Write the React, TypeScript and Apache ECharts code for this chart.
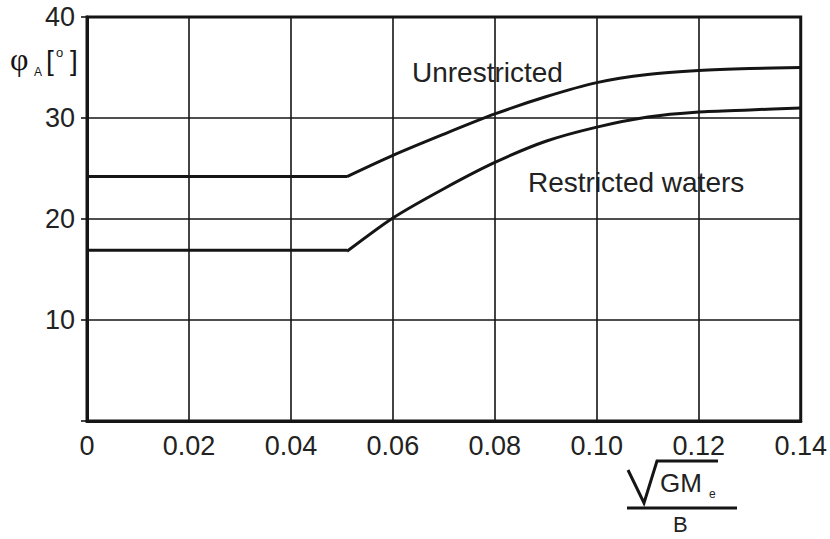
import React, { useEffect, useRef } from "react";
import * as echarts from "echarts";

// x values (sqrt(GMe)/B)
const flatX = [0, 0.051];
const curveX = [0.051, 0.06, 0.07, 0.08, 0.09, 0.1, 0.11, 0.12, 0.13, 0.14];
// Unrestricted
const unrestrictedFlat = [24.2, 24.2];
const unrestrictedCurve = [24.2, 26.3, 28.4, 30.4, 32.1, 33.5, 34.3, 34.7, 34.9, 35.0];
// Restricted waters
const restrictedFlat = [16.9, 16.9];
const restrictedCurve = [16.8, 20.1, 23.0, 25.6, 27.7, 29.1, 30.1, 30.6, 30.8, 31.0];

const xTicks = [0, 0.02, 0.04, 0.06, 0.08, 0.1, 0.12, 0.14];
const yTicks = [0, 10, 20, 30, 40];

const FONT = "'Liberation Sans', Arial, sans-serif";
const INK = "#151515";

const zip = (xs: number[], ys: number[]) => xs.map((x, i) => [x, ys[i]]);

export default function App() {
  const ref = useRef<HTMLDivElement>(null);
  useEffect(() => {
    if (!ref.current) return;
    const chart = echarts.init(ref.current, undefined, { renderer: "svg" });
    const lineStyle = { color: INK, width: 3 };
    const mk = (data: number[][], smooth: boolean) => ({
      type: "line",
      data,
      smooth: smooth ? 0.25 : false,
      showSymbol: false,
      symbol: "none",
      lineStyle,
      silent: true,
    });
    chart.setOption({
      animation: false,
      backgroundColor: "#ffffff",
      grid: {
        left: 87,
        right: 24,
        top: 17,
        bottom: 118,
        show: true,
        borderColor: INK,
        borderWidth: 3,
      },
      xAxis: {
        type: "value",
        min: xTicks[0],
        max: xTicks[xTicks.length - 1],
        interval: 0.02,
        axisLine: { show: true, lineStyle: { color: INK, width: 3 } },
        axisTick: { show: false },
        splitLine: { show: true, lineStyle: { color: INK, width: 1.6 } },
        axisLabel: {
          margin: 11,
          fontFamily: FONT,
          fontSize: 27,
          color: "#222",
          formatter: (v: number) => (Math.abs(v) < 1e-9 ? "0" : v.toFixed(2)),
        },
      },
      yAxis: {
        type: "value",
        min: yTicks[0],
        max: yTicks[yTicks.length - 1],
        interval: 10,
        axisLine: { show: true, lineStyle: { color: INK, width: 3 } },
        axisTick: { show: true, length: 6, lineStyle: { color: INK, width: 1.6 } },
        splitLine: { show: true, lineStyle: { color: INK, width: 1.6 } },
        axisLabel: {
          margin: 12,
          fontFamily: FONT,
          fontSize: 27,
          color: "#222",
          formatter: (v: number) => (v === 0 ? "" : String(v)),
        },
      },
      series: [
        mk(zip(flatX, unrestrictedFlat), false),
        mk(zip(curveX, unrestrictedCurve), true),
        mk(zip(flatX, restrictedFlat), false),
        mk(zip(curveX, restrictedCurve), true),
      ],
      graphic: [
        {
          type: "text",
          left: 412,
          top: 58,
          style: { text: "Unrestricted", font: `28px ${FONT}`, fill: "#222" },
        },
        {
          type: "text",
          left: 528,
          top: 168,
          style: { text: "Restricted waters", font: `28px ${FONT}`, fill: "#222" },
        },
        // y axis title: φA[°]
        {
          type: "text",
          left: 10,
          top: 43,
          style: { text: "φ", font: `32px 'Liberation Serif', 'DejaVu Serif', serif`, fill: INK },
        },
        {
          type: "text",
          left: 34,
          top: 66,
          style: { text: "A", font: `12px ${FONT}`, fill: INK },
        },
        {
          type: "text",
          left: 46,
          top: 46,
          style: { text: "[", font: `28px ${FONT}`, fill: INK },
        },
        {
          type: "text",
          left: 56,
          top: 46,
          style: { text: "o", font: `13px ${FONT}`, fill: INK },
        },
        {
          type: "text",
          left: 70,
          top: 46,
          style: { text: "]", font: `28px ${FONT}`, fill: INK },
        },
        // x axis title: sqrt(GMe) / B
        {
          type: "polyline",
          shape: { points: [[628, 470], [644, 503], [657, 461], [718, 461]] },
          style: { stroke: INK, lineWidth: 3, fill: "none" },
        },
        {
          type: "text",
          left: 660,
          top: 470,
          style: { text: "GM", font: `26px ${FONT}`, fill: "#222" },
        },
        {
          type: "text",
          left: 709,
          top: 488,
          style: { text: "e", font: `12px ${FONT}`, fill: "#222" },
        },
        {
          type: "line",
          shape: { x1: 627, y1: 508, x2: 737, y2: 508 },
          style: { stroke: INK, lineWidth: 3 },
        },
        {
          type: "text",
          left: 673,
          top: 513,
          style: { text: "B", font: `22px ${FONT}`, fill: "#222" },
        },
      ],
    });
    return () => chart.dispose();
  }, []);
  return (
    <div
      ref={ref}
      style={{ position: "fixed", left: 0, top: 0, width: 830, height: 539 }}
    />
  );
}
